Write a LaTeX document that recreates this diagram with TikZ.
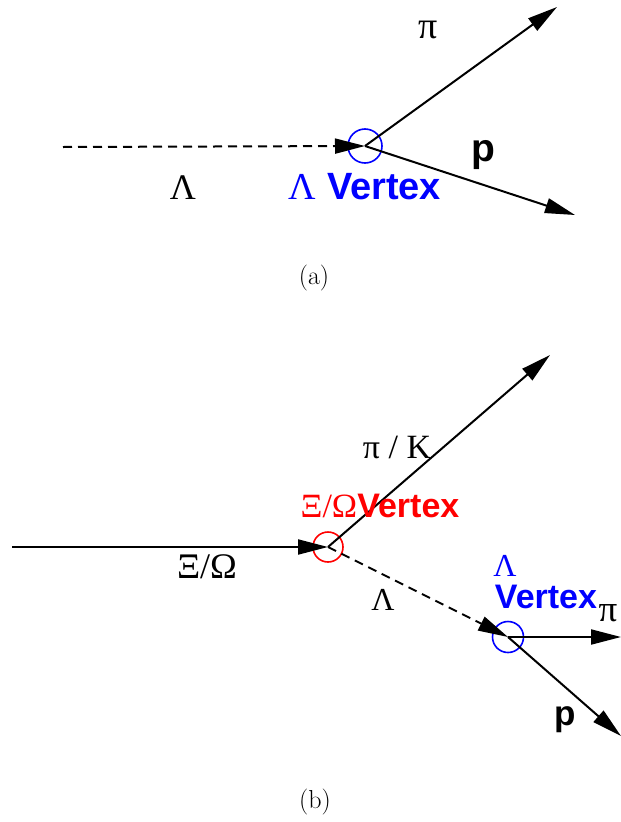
\documentclass[tikz,border=0pt]{standalone}
\usepackage{fontspec}
\setsansfont{Liberation Sans}
\newfontfamily\grk{Liberation Serif}
\usetikzlibrary{arrows.meta}
\definecolor{vtxBlue}{RGB}{0,0,255}
\definecolor{vtxRed}{RGB}{255,0,0}
\tikzset{
  track/.style={-{Triangle[length=30pt,width=15pt]}, line width=2pt},
  neutral/.style={track, dash pattern=on 9pt off 6pt},
  vtx/.style={circle, draw, line width=1.6pt, inner sep=0pt},
  lbl/.style={font=\bfseries\sffamily\fontsize{38}{40}\selectfont},
  glbl/.style={font=\grk\fontsize{36}{38}\selectfont},
  subcap/.style={font=\fontsize{26}{28}\selectfont}
}

\begin{document}
\begin{tikzpicture}[x=1pt,y=-1pt]
  \useasboundingbox (0,0) rectangle (621,822);

  % (a) lambda decay
  \node[vtx, vtxBlue, minimum size=34pt] (lv) at (365,146) {};
  \coordinate (lin) at (63,147);
  \coordinate (api) at (557,7);
  \coordinate (ap) at (575,215);
  \draw[neutral] (lin) -- (lv.center);
  \draw[track] (lv.center) -- (api);
  \draw[track] (lv.center) -- (ap);
  \node[glbl, font=\grk\fontsize{38}{40}\selectfont] (apilbl) at (428,30) {π};
  \node[lbl, font=\bfseries\sffamily\fontsize{39}{41}\selectfont] (aplbl) at (483,155) {p};
  \node[glbl] (alamlbl) at (183,188) {Λ};
  \node[lbl, vtxBlue] (avtx) at (365,187) {{\grk\mdseries Λ} Vertex};
  \node[subcap] (capa) at (314,278) {(a)};

  % (b) cascade decay
  \node[vtx, vtxRed, minimum size=30pt] (cv) at (328,547) {};
  \node[vtx, vtxBlue, minimum size=31pt] (bv) at (508,637) {};
  \coordinate (cin) at (12,547);
  \coordinate (bk) at (550,355);
  \coordinate (bpi) at (621,637);
  \coordinate (bp) at (621,736);
  \draw[track] (cin) -- (cv.center);
  \draw[track] (cv.center) -- (bk);
  \draw[neutral] (cv.center) -- (bv.center);
  \draw[track] (bv.center) -- (bpi);
  \draw[track] (bv.center) -- (bp);
  \node[glbl, font=\grk\fontsize{34}{36}\selectfont] (bklbl) at (397,447) {π / K};
  \node[lbl, vtxRed, font=\bfseries\sffamily\fontsize{34}{36}\selectfont] (cvtx) at (380,506) {{\grk\mdseries Ξ/Ω}Vertex};
  \node[glbl] (cinlbl) at (207,567) {Ξ/Ω};
  \node[glbl, font=\grk\fontsize{32}{34}\selectfont] (blamlbl) at (383,600) {Λ};
  \node[vtxBlue, font=\grk\fontsize{32}{34}\selectfont] (bvlam) at (505,566) {Λ};
  \node[lbl, vtxBlue, font=\bfseries\sffamily\fontsize{34}{36}\selectfont] (bvtx) at (546,597) {Vertex};
  \node[glbl, font=\grk\fontsize{37}{39}\selectfont] (bpilbl) at (608,613) {π};
  \node[lbl, font=\bfseries\sffamily\fontsize{35}{37}\selectfont] (bplbl) at (565,720) {p};
  \node[subcap] (capb) at (315,802) {(b)};
\end{tikzpicture}
\end{document}
